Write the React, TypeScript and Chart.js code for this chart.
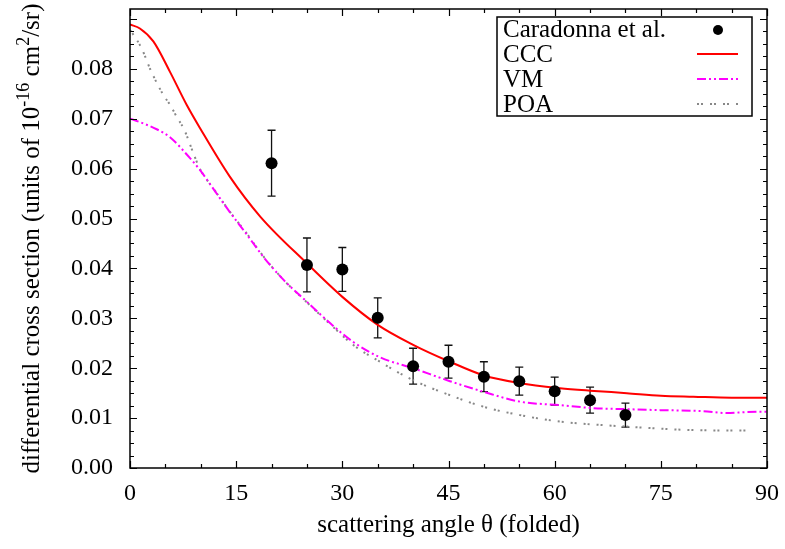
import React, { useEffect, useRef } from 'react';
import { Chart, registerables } from 'chart.js';

Chart.register(...registerables);

const FONT = "'Liberation Serif', 'Times New Roman', Times, serif";
Chart.defaults.font.family = FONT;

// Experimental data (Caradonna et al.)
const expAngles = [20, 25, 30, 35, 40, 45, 50, 55, 60, 65, 70];
const expValues = [0.0611, 0.0407, 0.0398, 0.0301, 0.0204, 0.0213, 0.0183, 0.0174, 0.0154, 0.0136, 0.0106];
const expErrors = [0.0066, 0.0054, 0.0044, 0.004, 0.0036, 0.0033, 0.003, 0.0028, 0.0028, 0.0026, 0.0024];

// CCC theory
const cccAngles = [0, 1.4, 3.3, 5.65, 8, 9.9, 14.1, 18.4, 25, 30, 35, 40, 45.2, 49.9, 55.1, 60.75, 65, 70.2, 75, 79.6, 85, 90];
const cccValues = [0.0889, 0.0881, 0.0855, 0.0794, 0.0728, 0.0681, 0.0584, 0.0504, 0.041, 0.0343, 0.0287, 0.0247, 0.0213, 0.0186, 0.017, 0.016, 0.0155, 0.015, 0.0145, 0.0143, 0.0141, 0.0141];

// VM theory
const vmAngles = [0, 0.47, 3.77, 5.65, 8.48, 9.9, 12, 14.1, 16.5, 18.8, 21.7, 25, 28.3, 31.5, 35.3, 40, 45.2, 49.9, 55.1, 60.75, 65.5, 70, 74.9, 81, 84.3, 87, 90];
const vmValues = [0.07, 0.0698, 0.0679, 0.0663, 0.0621, 0.0597, 0.0555, 0.0513, 0.0468, 0.0424, 0.0377, 0.0333, 0.029, 0.0253, 0.0222, 0.02, 0.0174, 0.0153, 0.0133, 0.0126, 0.012, 0.0118, 0.0116, 0.0114, 0.011, 0.0112, 0.0113];

// POA theory
const poaAngles = [0, 0.5, 1.65, 2.9, 4.7, 5.65, 6.6, 7.7, 8.95, 9.9, 12, 14.1, 16.5, 18.8, 21.7, 25, 28.3, 31.5, 35.3, 40, 45.2, 49.9, 55.1, 60.8, 70.2, 79.6, 87.6];
const poaValues = [0.0878, 0.0868, 0.0841, 0.0798, 0.0748, 0.0728, 0.0704, 0.0677, 0.0631, 0.0599, 0.0556, 0.0514, 0.047, 0.0425, 0.0377, 0.0332, 0.0288, 0.0247, 0.0213, 0.0176, 0.0146, 0.0123, 0.0106, 0.0093, 0.0083, 0.0076, 0.0075];

const seriesLabels = ['Caradonna et al.', 'CCC', 'VM', 'POA'];
const xTitle = 'scattering angle \u03b8 (folded)';
const yTitleParts = [
  { text: 'differential cross section (units of 10', sup: false },
  { text: '-16', sup: true },
  { text: ' cm', sup: false },
  { text: '2', sup: true },
  { text: '/sr)', sup: false },
];

const X_MIN = 0, X_MAX = 90, X_STEP = 15, X_MINOR = 5;
const Y_MIN = 0, Y_MAX = 0.092, Y_STEP = 0.01, Y_MINOR = 0.0025, Y_LAST = 0.09;

const RED = '#ff0000';
const MAGENTA = '#ff00ff';
const GRAY = '#888888';
const VM_DASH = [9, 3, 2, 3, 2, 3];
const POA_DASH = [2, 2, 2, 7];

const toPoints = (xs: number[], ys: number[]) => xs.map((x, i) => ({ x, y: ys[i] }));

const errorBarPlugin = {
  id: 'errorBars',
  beforeDatasetsDraw(chart: any) {
    const { ctx } = chart;
    const xs = chart.scales.x, ys = chart.scales.y;
    ctx.save();
    ctx.strokeStyle = '#111';
    ctx.lineWidth = 1.3;
    expAngles.forEach((a, i) => {
      const px = xs.getPixelForValue(a);
      const top = ys.getPixelForValue(expValues[i] + expErrors[i]);
      const bot = ys.getPixelForValue(expValues[i] - expErrors[i]);
      ctx.beginPath();
      ctx.moveTo(px, top); ctx.lineTo(px, bot);
      ctx.moveTo(px - 4, top); ctx.lineTo(px + 4, top);
      ctx.moveTo(px - 4, bot); ctx.lineTo(px + 4, bot);
      ctx.stroke();
    });
    ctx.restore();
  },
};

const framePlugin = {
  id: 'frame',
  afterDatasetsDraw(chart: any) {
    const { ctx, chartArea: ca } = chart;
    const xs = chart.scales.x, ys = chart.scales.y;
    ctx.save();
    ctx.strokeStyle = '#000';
    ctx.lineWidth = 1.5;
    ctx.strokeRect(ca.left, ca.top, ca.right - ca.left, ca.bottom - ca.top);
    ctx.lineWidth = 1.2;
    ctx.beginPath();
    const nx = Math.round((X_MAX - X_MIN) / X_MINOR);
    for (let k = 0; k <= nx; k++) {
      const v = X_MIN + k * X_MINOR;
      const major = Math.abs(v / X_STEP - Math.round(v / X_STEP)) < 1e-6;
      const len = major ? 7 : 4;
      const px = Math.round(xs.getPixelForValue(v)) + 0.5;
      ctx.moveTo(px, ca.bottom); ctx.lineTo(px, ca.bottom - len);
      ctx.moveTo(px, ca.top); ctx.lineTo(px, ca.top + len);
    }
    const ny = Math.round((Y_LAST - Y_MIN) / Y_MINOR);
    for (let k = 0; k <= ny; k++) {
      const v = Y_MIN + k * Y_MINOR;
      const major = k % Math.round(Y_STEP / Y_MINOR) === 0;
      const len = major ? 7 : 4;
      const py = Math.round(ys.getPixelForValue(v)) + 0.5;
      ctx.moveTo(ca.left, py); ctx.lineTo(ca.left + len, py);
      ctx.moveTo(ca.right, py); ctx.lineTo(ca.right - len, py);
    }
    ctx.stroke();
    ctx.restore();
  },
};

const legendPlugin = {
  id: 'gpLegend',
  afterDraw(chart: any) {
    const { ctx, chartArea: ca } = chart;
    const right = ca.right - 15;
    const top = ca.top + 8;
    const w = 255, h = 99;
    const left = right - w;
    ctx.save();
    ctx.fillStyle = '#fff';
    ctx.fillRect(left, top, w, h);
    ctx.strokeStyle = '#000';
    ctx.lineWidth = 1.5;
    ctx.strokeRect(left, top, w, h);
    ctx.font = `25px ${FONT}`;
    ctx.textBaseline = 'alphabetic';
    ctx.textAlign = 'left';
    chart.data.datasets.forEach((ds: any, i: number) => {
      const cy = top + 12 + i * 25;
      ctx.fillStyle = '#000';
      ctx.fillText(ds.label, left + 6, cy + 8);
      if (i === 0) {
        ctx.beginPath();
        ctx.arc(right - 34, cy + 1, 5, 0, Math.PI * 2);
        ctx.fill();
      } else {
        ctx.save();
        ctx.strokeStyle = ds.borderColor;
        ctx.lineWidth = ds.borderWidth;
        ctx.setLineDash(ds.borderDash || []);
        ctx.beginPath();
        ctx.moveTo(right - 55, cy);
        ctx.lineTo(right - 14, cy);
        ctx.stroke();
        ctx.restore();
      }
    });
    ctx.restore();
  },
};

const yTitlePlugin = {
  id: 'yTitle',
  afterDraw(chart: any) {
    const { ctx, chartArea: ca } = chart;
    const normal = `25px ${FONT}`;
    const small = `18px ${FONT}`;
    ctx.save();
    let total = 0;
    const widths = yTitleParts.map((p) => {
      ctx.font = p.sup ? small : normal;
      const w = ctx.measureText(p.text).width;
      total += w;
      return w;
    });
    const cy = (ca.top + ca.bottom) / 2;
    ctx.translate(ca.left - 91, cy);
    ctx.rotate(-Math.PI / 2);
    ctx.fillStyle = '#000';
    ctx.textBaseline = 'alphabetic';
    ctx.textAlign = 'left';
    let x = -total / 2;
    yTitleParts.forEach((p, i) => {
      ctx.font = p.sup ? small : normal;
      ctx.fillText(p.text, x, p.sup ? -10 : 0);
      x += widths[i];
    });
    ctx.restore();
  },
};

export default function App() {
  const ref = useRef<HTMLCanvasElement | null>(null);

  useEffect(() => {
    document.body.style.margin = '0';
    document.body.style.overflow = 'hidden';
    const canvas = ref.current;
    if (!canvas) return;
    const chart = new Chart(canvas, {
      type: 'scatter',
      data: {
        datasets: [
          {
            label: seriesLabels[0],
            data: toPoints(expAngles, expValues),
            showLine: false,
            pointRadius: 6,
            pointBackgroundColor: '#000',
            pointBorderColor: '#000',
            pointBorderWidth: 0,
          },
          {
            label: seriesLabels[1],
            data: toPoints(cccAngles, cccValues),
            showLine: true,
            pointRadius: 0,
            borderColor: RED,
            borderWidth: 2,
            cubicInterpolationMode: 'monotone',
          },
          {
            label: seriesLabels[2],
            data: toPoints(vmAngles, vmValues),
            showLine: true,
            pointRadius: 0,
            borderColor: MAGENTA,
            borderWidth: 2,
            borderDash: VM_DASH,
            cubicInterpolationMode: 'monotone',
          },
          {
            label: seriesLabels[3],
            data: toPoints(poaAngles, poaValues),
            showLine: true,
            pointRadius: 0,
            borderColor: GRAY,
            borderWidth: 2,
            borderDash: POA_DASH,
            cubicInterpolationMode: 'monotone',
          },
        ],
      } as any,
      options: {
        animation: false,
        responsive: true,
        maintainAspectRatio: false,
        events: [],
        layout: { padding: { top: 9, right: 18, left: 0, bottom: 0 } },
        plugins: {
          legend: { display: false },
          tooltip: { enabled: false },
          title: { display: false },
        },
        scales: {
          x: {
            type: 'linear',
            min: X_MIN,
            max: X_MAX,
            grid: { display: false, drawTicks: false },
            border: { display: false },
            ticks: {
              stepSize: X_STEP,
              autoSkip: false,
              maxRotation: 0,
              padding: 11,
              color: '#000',
              font: { family: FONT, size: 24, lineHeight: 1.2 },
            },
            title: {
              display: true,
              text: xTitle,
              color: '#000',
              font: { family: FONT, size: 25, lineHeight: 1.2 },
              padding: { top: 0, bottom: 9 },
            },
            afterFit(scale: any) {
              scale.height = 81;
              scale.paddingLeft = 0;
              scale.paddingRight = 0;
            },
          },
          y: {
            type: 'linear',
            min: Y_MIN,
            max: Y_MAX,
            grid: { display: false, drawTicks: false },
            border: { display: false },
            ticks: {
              stepSize: Y_STEP,
              autoSkip: false,
              padding: 17,
              color: '#000',
              font: { family: FONT, size: 24, lineHeight: 1.2 },
              callback: (v: any) => Number(v).toFixed(2),
            },
            afterBuildTicks(scale: any) {
              scale.ticks = scale.ticks.filter(
                (t: any) => Math.abs(t.value / Y_STEP - Math.round(t.value / Y_STEP)) < 1e-6
              );
            },
            afterFit(scale: any) {
              scale.width = 130;
              scale.paddingTop = 0;
              scale.paddingBottom = 0;
            },
          },
        },
      } as any,
      plugins: [errorBarPlugin, framePlugin, legendPlugin, yTitlePlugin],
    });
    return () => chart.destroy();
  }, []);

  return (
    <div style={{ width: 785, height: 549, position: 'relative', background: '#fff' }}>
      <canvas ref={ref} />
    </div>
  );
}
